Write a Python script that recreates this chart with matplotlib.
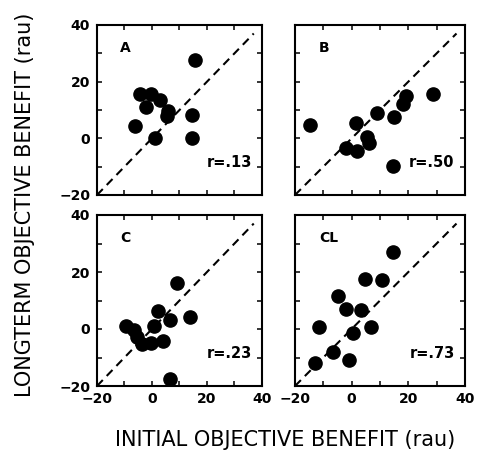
import matplotlib
matplotlib.use("Agg")
import matplotlib.pyplot as plt
from matplotlib.ticker import FixedLocator

# ------------------------------------------------------------------------
# Data (x: initial, y: longterm benefit, rau)
# ------------------------------------------------------------------------
a_x = [15.5, -4.4, -0.2, 3.0, -2.2, 6.0, 5.5, 14.7, -6.0, 1.0, 14.7]
a_y = [27.5, 15.8, 15.8, 13.5, 11.0, 9.5, 7.8, 8.4, 4.2, 0.0, 0.0]

b_x = [-14.7, 1.5, 9.0, 15.0, 18.0, 19.0, 28.8, 5.3, 6.0, -2.0, 1.8, 14.5]
b_y = [4.6, 5.5, 9.0, 7.5, 12.0, 15.0, 15.7, 0.5, -1.6, -3.4, -4.5, -9.8]

c_x = [9.0, 2.3, 6.4, 13.8, 0.8, -9.3, -6.6, -5.3, -3.7, -0.2, 4.1, 6.5]
c_y = [16.0, 6.2, 3.3, 4.2, 1.2, 1.0, -0.2, -2.8, -5.1, -5.0, -4.1, -17.5]

cl_x = [14.7, 4.7, 10.8, -4.7, -2.0, 3.3, -11.4, 0.4, 6.7, -6.5, -0.9, -12.9]
cl_y = [27.1, 17.4, 17.1, 11.5, 7.1, 6.7, 0.6, -1.5, 0.6, -8.2, -10.8, -12.0]

panel_names = ["A", "B", "C", "CL"]
r_labels = ["r=.13", "r=.50", "r=.23", "r=.73"]
tick_vals = [-20, 0, 20, 40]
minor_vals = [-10, 10, 30]

# ------------------------------------------------------------------------
# Figure layout (pixel boxes: left, right, top, bottom)
# ------------------------------------------------------------------------
W, H = 478, 455
fig = plt.figure(figsize=(W / 100, H / 100), dpi=100)

boxes = [(97, 262, 25, 195), (295, 465, 25, 195),
         (97, 262, 215, 386), (295, 465, 215, 386)]
data = [(a_x, a_y), (b_x, b_y), (c_x, c_y), (cl_x, cl_y)]

for i, ((l, r, t, b), (xs, ys)) in enumerate(zip(boxes, data)):
    ax = fig.add_axes([l / W, (H - b) / H, (r - l) / W, (b - t) / H])
    ax.plot([-20, 37], [-20, 37], ls=(0, (4, 2.7)), color="k", lw=1.5)
    ax.plot(xs, ys, "o", color="k", ms=9.5, clip_on=False)
    ax.set_xlim(-20, 40)
    ax.set_ylim(-20, 40)

    ax.xaxis.set_major_locator(FixedLocator(tick_vals))
    ax.yaxis.set_major_locator(FixedLocator(tick_vals))
    ax.xaxis.set_minor_locator(FixedLocator(minor_vals))
    ax.yaxis.set_minor_locator(FixedLocator(minor_vals))
    ax.tick_params(which="both", direction="in", length=3.5, width=1.1,
                   top=True, right=True)
    ax.tick_params(axis="y", pad=5)
    ax.tick_params(axis="x", pad=4)
    for s in ax.spines.values():
        s.set_linewidth(1.5)

    ax.set_xticklabels([str(v).replace("-", "\u2212") for v in tick_vals],
                       fontsize=10, fontweight="bold")
    ax.set_yticklabels([str(v).replace("-", "\u2212") for v in tick_vals],
                       fontsize=10, fontweight="bold")
    if i < 2:
        ax.tick_params(axis="x", labelbottom=False)
    if i % 2 == 1:
        ax.tick_params(axis="y", labelleft=False)

    # panel letter and correlation
    ax.text(-11.5, 32, panel_names[i], fontsize=10, fontweight="bold",
            ha="left", va="center")
    ax.text(36.3, -8.5, r_labels[i], fontsize=10.5, fontweight="bold",
            ha="right", va="center")

fig.text(25 / W, 1 - 205 / H, "LONGTERM OBJECTIVE BENEFIT (rau)",
         rotation=90, ha="center", va="center", fontsize=15)
fig.text(285 / W, 1 - 440 / H, "INITIAL OBJECTIVE BENEFIT (rau)",
         ha="center", va="center", fontsize=15)

fig.savefig("out.png", dpi=100)
